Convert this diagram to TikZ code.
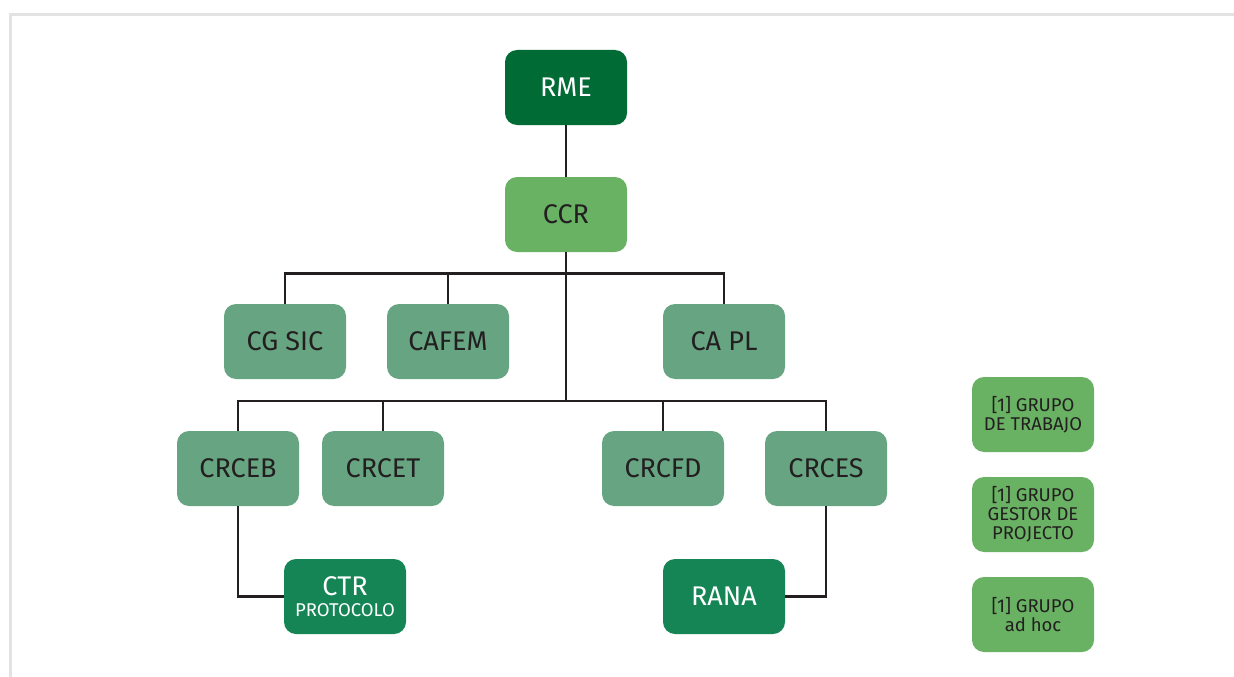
\documentclass[tikz,border=0pt]{standalone}
\usepackage{fontspec}
\setmainfont{Fira Sans}
\definecolor{dkgreen}{HTML}{006B35}
\definecolor{ltgreen}{HTML}{69B263}
\definecolor{grgreen}{HTML}{67A582}
\definecolor{mdgreen}{HTML}{158556}
\definecolor{txt}{HTML}{231F20}
\definecolor{frame}{HTML}{E3E3E3}
\begin{document}
\begin{tikzpicture}[x=1pt,y=-1pt,
  box/.style={rounded corners=12pt,minimum width=122pt,minimum height=75pt,inner sep=0pt,align=center,font=\fontsize{27}{30}\selectfont},
  lbox/.style={box,fill=ltgreen,text=txt},
  gbox/.style={box,fill=grgreen,text=txt},
  dbox/.style={box,fill=dkgreen,text=white},
  mbox/.style={box,fill=mdgreen,text=white},
  legbox/.style={box,fill=ltgreen,text=txt,font=\fontsize{18.5}{19}\selectfont},
  conn/.style={draw=txt,line width=2.8pt}]
\useasboundingbox (0,0) rectangle (1234,677);
\draw[frame,line width=3pt] (1234,14.5) -- (10.5,14.5) -- (10.5,677);
\node[dbox] (rme) at (566,87.5) {RME};
\node[lbox] (ccr) at (566,214.5) {CCR};
\node[gbox] (cgsic) at (285,341.5) {CG SIC};
\node[gbox] (cafem) at (448,341.5) {CAFEM};
\node[gbox] (capl) at (724,341.5) {CA PL};
\node[gbox] (crceb) at (238,468.5) {CRCEB};
\node[gbox] (crcet) at (383,468.5) {CRCET};
\node[gbox] (crcfd) at (663,468.5) {CRCFD};
\node[gbox] (crces) at (826,468.5) {CRCES};
\node[mbox] (ctr) at (345,596.5) {CTR\\[-9pt]{\fontsize{18.5}{19}\selectfont PROTOCOLO}};
\node[mbox] (rana) at (724,596.5) {RANA};
\node[legbox] (lg1) at (1033,414.5) {[1] GRUPO\\DE TRABAJO};
\node[legbox] (lg2) at (1033,514.5) {[1] GRUPO\\GESTOR DE\\PROJECTO};
\node[legbox] (lg3) at (1033,614.5) {[1] GRUPO\\ad hoc};
\coordinate (bus1) at (566,273.5);
\coordinate (bus2) at (566,401);
\begin{scope}[on background layer/.style={}]
\draw[conn] (rme) -- (ccr);
\draw[conn] (ccr) -- (bus2);
\draw[conn] (cgsic.north) |- (bus1) -| (capl.north);
\draw[conn] (cafem.north) -- (cafem.north |- bus1);
\draw[conn] (crceb.north) |- (bus2) -| (crces.north);
\draw[conn] (crcet.north) -- (crcet.north |- bus2);
\draw[conn] (crcfd.north) -- (crcfd.north |- bus2);
\draw[conn] (crceb.south) |- (ctr.west);
\draw[conn] (crces.south) |- (rana.east);
\end{scope}
\end{tikzpicture}
\end{document}
